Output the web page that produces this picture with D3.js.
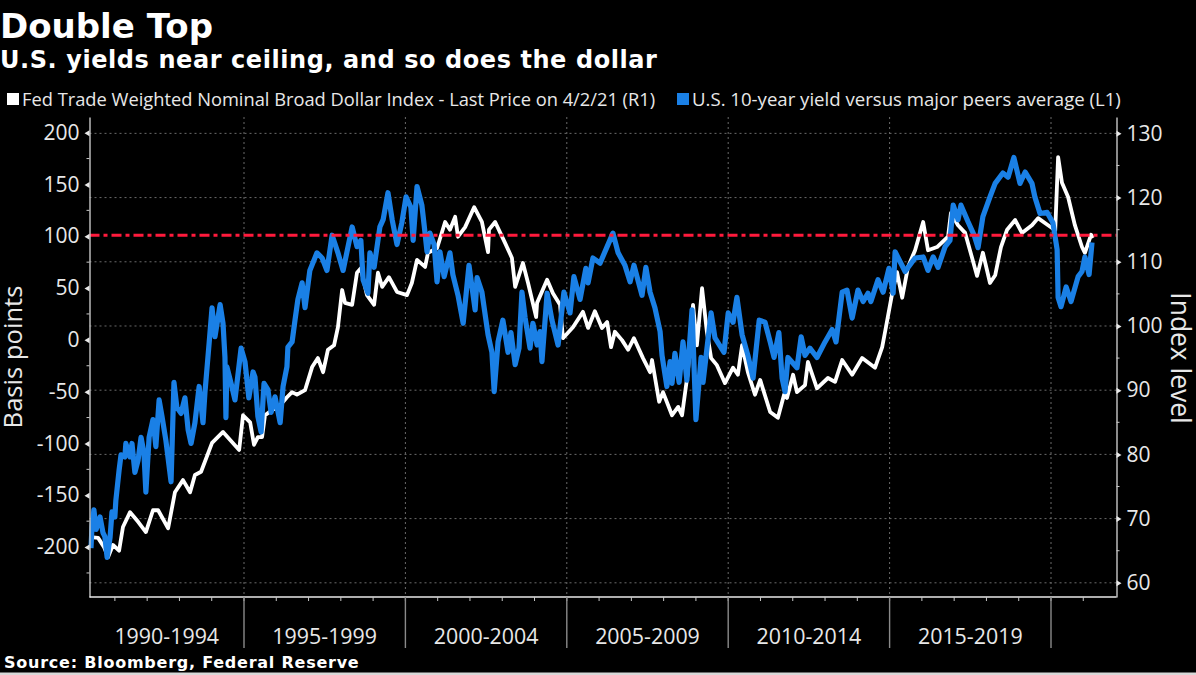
<!DOCTYPE html>
<html>
<head>
<meta charset="utf-8">
<script src="https://d3js.org/d3.v7.min.js"></script>
<style>
  html, body { margin: 0; padding: 0; background: #000; overflow: hidden; }
  text { fill: #e8e8e8; }
</style>
</head>
<body>
<div id="chart-area"></div>
<script>
// Dollar index, right axis (decimal year, index level)
var dollarYears = [1990.26,1990.48,1990.66,1990.79,1990.94,1991.13,1991.25,1991.47,1991.72,1991.96,1992.18,1992.34,1992.65,1992.86,1993.11,1993.33,1993.48,1993.67,1994.01,1994.35,1994.85,1994.97,1995.19,1995.31,1995.43,1995.56,1995.65,1995.87,1996.08,1996.33,1996.49,1996.64,1996.89,1997.11,1997.29,1997.45,1997.60,1997.79,1997.91,1998.04,1998.13,1998.35,1998.50,1998.62,1998.81,1999.03,1999.15,1999.28,1999.49,1999.74,2000.05,2000.20,2000.36,2000.61,2000.70,2000.98,2001.23,2001.38,2001.54,2001.63,2001.85,2002.13,2002.37,2002.56,2002.59,2002.78,2003.09,2003.30,2003.40,2003.64,2003.80,2004.05,2004.08,2004.39,2004.57,2004.79,2004.88,2005.19,2005.50,2005.66,2005.87,2006.09,2006.25,2006.37,2006.49,2006.71,2006.90,2007.08,2007.36,2007.58,2007.64,2007.86,2007.98,2008.26,2008.45,2008.57,2008.75,2008.91,2009.03,2009.19,2009.34,2009.47,2009.65,2009.90,2010.15,2010.30,2010.43,2010.61,2010.83,2010.99,2011.30,2011.54,2011.73,2011.82,2012.01,2012.13,2012.38,2012.47,2012.75,2013.09,2013.31,2013.53,2013.84,2014.15,2014.55,2014.77,2014.86,2015.07,2015.23,2015.39,2015.57,2015.79,2016.04,2016.19,2016.47,2016.81,2016.90,2017.12,2017.34,2017.55,2017.71,2017.89,2018.11,2018.27,2018.45,2018.64,2018.89,2019.10,2019.41,2019.60,2019.91,2020.13,2020.22,2020.34,2020.53,2020.74,2020.96,2021.05,2021.24,2021.30];
var dollarValues = [67.1,67.0,65.6,64.0,65.9,65.0,68.7,71.0,69.5,67.9,71.3,71.3,68.5,74.1,76.0,74.1,76.8,77.3,81.8,83.5,80.7,86.1,85.0,81.5,82.7,82.7,86.1,86.9,87.4,88.9,89.7,89.3,90.0,93.6,95.0,92.8,96.3,97.0,99.8,105.6,103.6,103.3,108.3,109.0,104.8,103.3,108.3,106.1,107.6,105.3,104.8,106.7,110.3,109.2,111.4,112.1,116.2,115.0,117.0,113.9,115.4,118.5,116.2,111.5,115.0,116.2,112.9,110.6,106.1,109.8,106.7,101.4,103.6,107.2,105.1,103.3,98.1,99.8,102.2,99.7,102.3,99.7,100.6,96.7,99.1,97.8,96.3,98.1,95.0,92.8,94.7,88.2,89.7,86.1,87.4,86.1,92.8,103.3,97.0,105.9,99.1,95.0,93.9,91.1,93.5,92.4,97.0,92.8,89.3,91.6,86.6,85.7,89.3,88.8,92.4,89.7,90.8,94.4,90.3,91.9,91.3,94.7,92.4,95.0,93.5,96.7,99.1,104.8,108.4,104.4,109.2,111.8,116.2,111.8,112.3,113.9,117.6,115.7,114.5,110.7,107.8,111.4,106.7,107.9,112.3,115.0,116.5,114.5,115.7,116.8,115.7,114.9,126.3,122.3,120.1,115.7,112.3,111.4,114.2,113.7];

// 10-year yield spread, left axis (decimal year, basis points)
var yieldYears = [1990.26,1990.29,1990.35,1990.42,1990.54,1990.63,1990.69,1990.76,1990.85,1990.91,1991.00,1991.03,1991.13,1991.19,1991.31,1991.34,1991.47,1991.53,1991.62,1991.72,1991.81,1991.90,1991.96,1992.06,1992.18,1992.27,1992.37,1992.46,1992.58,1992.74,1992.83,1992.92,1993.05,1993.17,1993.27,1993.36,1993.48,1993.61,1993.73,1993.79,1993.92,1994.01,1994.10,1994.26,1994.35,1994.41,1994.44,1994.47,1994.60,1994.72,1994.91,1995.03,1995.15,1995.28,1995.34,1995.43,1995.53,1995.62,1995.74,1995.84,1995.96,1996.12,1996.21,1996.33,1996.36,1996.49,1996.58,1996.67,1996.80,1996.89,1997.04,1997.26,1997.42,1997.57,1997.73,1997.91,1998.07,1998.35,1998.50,1998.62,1998.69,1998.84,1998.90,1999.03,1999.21,1999.31,1999.46,1999.59,1999.74,1999.89,2000.02,2000.17,2000.24,2000.36,2000.51,2000.58,2000.67,2000.76,2000.89,2000.98,2001.07,2001.20,2001.38,2001.47,2001.63,2001.79,2001.97,2002.16,2002.22,2002.37,2002.56,2002.68,2002.75,2002.87,2003.02,2003.18,2003.27,2003.40,2003.52,2003.61,2003.71,2003.86,2003.95,2004.08,2004.17,2004.23,2004.39,2004.54,2004.73,2004.91,2005.10,2005.22,2005.41,2005.59,2005.66,2005.81,2006.03,2006.25,2006.43,2006.59,2006.80,2006.96,2007.08,2007.27,2007.33,2007.45,2007.58,2007.73,2007.89,2007.95,2008.10,2008.20,2008.26,2008.35,2008.48,2008.60,2008.72,2008.88,2009.00,2009.16,2009.22,2009.47,2009.59,2009.87,2010.00,2010.15,2010.27,2010.43,2010.61,2010.77,2010.96,2011.14,2011.30,2011.42,2011.57,2011.67,2011.76,2011.85,2012.13,2012.26,2012.38,2012.53,2012.75,2013.00,2013.22,2013.34,2013.53,2013.68,2013.84,2014.02,2014.18,2014.33,2014.42,2014.64,2014.80,2014.98,2015.11,2015.17,2015.48,2015.79,2016.04,2016.19,2016.35,2016.50,2016.72,2016.87,2016.97,2017.12,2017.21,2017.43,2017.62,2017.74,2017.89,2018.11,2018.27,2018.51,2018.67,2018.85,2019.04,2019.20,2019.41,2019.50,2019.66,2019.88,2020.06,2020.19,2020.22,2020.31,2020.47,2020.62,2020.84,2020.96,2021.05,2021.18,2021.27];
var yieldValues = [-201,-181,-164,-183,-171,-186,-190,-210,-191,-166,-171,-155,-126,-111,-113,-100,-113,-100,-128,-116,-94,-109,-147,-94,-77,-103,-58,-74,-97,-137,-41,-65,-71,-56,-87,-100,-80,-45,-80,-51,-3,31,3,34,16,-17,-75,-26,-42,-58,-8,-21,-56,-31,-36,-74,-89,-42,-48,-70,-55,-80,-45,-26,-7,-2,19,39,55,31,67,84,79,67,101,84,67,109,90,96,58,45,84,70,109,116,142,116,92,113,138,128,96,148,130,111,85,103,92,56,85,61,84,63,43,16,72,29,60,46,5,-12,-50,-2,19,-12,7,-24,-8,46,21,-8,16,-5,8,-21,45,19,-5,46,26,61,39,69,55,79,74,90,103,84,72,56,72,50,43,70,46,31,8,-15,-45,-21,-42,-13,-41,-2,-39,29,-77,-17,-41,26,2,-12,26,17,41,5,-15,-37,19,17,-2,-17,7,-37,-50,-17,-27,3,-15,-8,-17,-2,10,-2,46,48,21,48,37,45,37,58,46,69,45,85,66,79,80,67,80,70,90,96,130,116,130,114,101,89,119,138,151,161,157,176,151,162,151,138,122,123,113,87,41,32,51,37,61,66,80,63,94];

// Ticks and labels
var leftTicks = [-200,-150,-100,-50,0,50,100,150,200];
var leftMinor = [-225,-175,-125,-75,-25,25,75,125,175];
var rightTicks = [60,70,80,90,100,110,120,130];
var rightMinor = [65,75,85,95,105,115,125];
var yearTicks = d3.range(1991, 2022);
var bandYears = [1995,2000,2005,2010,2015,2020];
var bandLabels = ["1990-1994","1995-1999","2000-2004","2005-2009","2010-2014","2015-2019"];
var ceiling = 100;

var width = 1196, height = 675;
var left = 89.5, right = 1116.5, top_ = 117, bottom = 597;

var svg = d3.select("#chart-area").append("svg")
    .attr("width", width)
    .attr("height", height)
    .style("display", "block")
    .style("background-color", "#000");

// Scales
var x = d3.scaleLinear()
    .domain([1995 + (left - 244) / 32.28, 1995 + (right - 244) / 32.28])
    .range([left, right]);
var yLeft = d3.scaleLinear().domain([-248.2, 215.1]).range([bottom, top_]);
var yRight = d3.scaleLinear().domain([57.79, 132.55]).range([bottom, top_]);

// Grid
svg.append("g").selectAll("line").data(rightTicks).join("line")
    .attr("x1", left).attr("x2", right)
    .attr("y1", d => yRight(d)).attr("y2", d => yRight(d))
    .attr("stroke", "#6a6a6a").attr("stroke-dasharray", "2,3");

svg.append("g").selectAll("line").data(bandYears).join("line")
    .attr("x1", d => x(d)).attr("x2", d => x(d))
    .attr("y1", top_).attr("y2", bottom)
    .attr("stroke", "#6a6a6a").attr("stroke-dasharray", "2,3");

// Lines
var dollarLine = d3.line().x(d => x(d[0])).y(d => yRight(d[1]));
var yieldLine = d3.line().x(d => x(d[0])).y(d => yLeft(d[1]));

svg.append("path")
    .attr("d", dollarLine(d3.zip(dollarYears, dollarValues)))
    .attr("fill", "none").attr("stroke", "#fff")
    .attr("stroke-width", 3.8).attr("stroke-linejoin", "round");

svg.append("path")
    .attr("d", yieldLine(d3.zip(yieldYears, yieldValues)))
    .attr("fill", "none").attr("stroke", "#1a80e6")
    .attr("stroke-width", 5.2).attr("stroke-linejoin", "round");

// Ceiling line
svg.append("line")
    .attr("x1", left).attr("x2", right)
    .attr("y1", yLeft(ceiling) - 1).attr("y2", yLeft(ceiling) - 1)
    .attr("stroke", "#ff1a3c").attr("stroke-width", 3)
    .attr("stroke-dasharray", "10,4,4,4");

// Axes
function styleAxis(g) {
    g.selectAll(".domain").attr("stroke", "#c8c8c8").attr("stroke-width", 1.4);
    g.selectAll("line").attr("stroke", "#c8c8c8");
    g.selectAll("text")
        .style("font-family", "'Open Sans', sans-serif")
        .style("font-size", "21px")
        .style("fill", "#e8e8e8");
}

var axisLeft = svg.append("g").attr("transform", "translate(" + left + ",0)")
    .call(d3.axisLeft(yLeft).tickValues(leftTicks).tickSize(0).tickPadding(10)
        .tickFormat(d => d < 0 ? "-" + Math.abs(d) : d))
    .call(styleAxis);

var axisRight = svg.append("g").attr("transform", "translate(" + right + ",0)")
    .call(d3.axisRight(yRight).tickValues(rightTicks).tickSize(0).tickPadding(10))
    .call(styleAxis);

// Arrow shaped major ticks
axisLeft.selectAll(".tick").append("path").attr("d", "M0,-3 L-5,0 L0,3 Z").attr("fill", "#e8e8e8");
axisRight.selectAll(".tick").append("path").attr("d", "M0,-3 L5,0 L0,3 Z").attr("fill", "#e8e8e8");

// Minor ticks
svg.append("g").selectAll("line").data(leftMinor).join("line")
    .attr("x1", left - 3).attr("x2", left)
    .attr("y1", d => yLeft(d)).attr("y2", d => yLeft(d))
    .attr("stroke", "#c8c8c8");

svg.append("g").selectAll("line").data(rightMinor).join("line")
    .attr("x1", right).attr("x2", right + 3)
    .attr("y1", d => yRight(d)).attr("y2", d => yRight(d))
    .attr("stroke", "#c8c8c8");

// Bottom axis
svg.append("line")
    .attr("x1", left).attr("x2", right).attr("y1", bottom).attr("y2", bottom)
    .attr("stroke", "#e8e8e8").attr("stroke-width", 1.4);

svg.append("g").selectAll("line").data(yearTicks).join("line")
    .attr("x1", d => x(d)).attr("x2", d => x(d))
    .attr("y1", bottom).attr("y2", bottom + 4)
    .attr("stroke", "#c8c8c8");

svg.append("g").selectAll("line").data(bandYears).join("line")
    .attr("x1", d => x(d)).attr("x2", d => x(d))
    .attr("y1", bottom).attr("y2", 648)
    .attr("stroke", "#8a8a8a").attr("stroke-width", 1.4);

svg.append("g").selectAll("text").data(bandLabels).join("text")
    .attr("x", (d, i) => i == 0 ? (left + x(1995)) / 2 : x(1990 + 5 * i + 2.5))
    .attr("y", 644)
    .attr("text-anchor", "middle")
    .style("font-family", "'Open Sans', sans-serif")
    .style("font-size", "21.4px")
    .text(d => d);

// Axis titles
svg.append("text")
    .attr("transform", "translate(22,357) rotate(-90)")
    .attr("text-anchor", "middle")
    .style("font-family", "'Open Sans', sans-serif")
    .style("font-size", "25.6px")
    .text("Basis points");

svg.append("text")
    .attr("transform", "translate(1171,358) rotate(90)")
    .attr("text-anchor", "middle")
    .style("font-family", "'Open Sans', sans-serif")
    .style("font-size", "26.4px")
    .text("Index level");

// Title and subtitle
svg.append("text")
    .attr("x", 0).attr("y", 38)
    .style("font-family", "'DejaVu Sans', sans-serif")
    .style("font-weight", "bold")
    .style("font-size", "34px")
    .style("fill", "#fff")
    .text("Double Top");

svg.append("text")
    .attr("x", 0).attr("y", 68)
    .style("font-family", "'DejaVu Sans', sans-serif")
    .style("font-weight", "bold")
    .style("font-size", "24px")
    .style("letter-spacing", "0.57px")
    .style("fill", "#fff")
    .text("U.S. yields near ceiling, and so does the dollar");

// Legend
svg.append("rect").attr("x", 7).attr("y", 93).attr("width", 12).attr("height", 12).attr("fill", "#fff");
svg.append("text")
    .attr("x", 22).attr("y", 106)
    .style("font-family", "'Open Sans', sans-serif")
    .style("font-size", "18.3px")
    .text("Fed Trade Weighted Nominal Broad Dollar Index - Last Price on 4/2/21 (R1)");

svg.append("rect").attr("x", 677).attr("y", 93).attr("width", 12).attr("height", 12).attr("fill", "#1a80e6");
svg.append("text")
    .attr("x", 692).attr("y", 106)
    .style("font-family", "'Open Sans', sans-serif")
    .style("font-size", "18.6px")
    .text("U.S. 10-year yield versus major peers average (L1)");

// Source
svg.append("text")
    .attr("x", 4).attr("y", 668)
    .style("font-family", "'DejaVu Sans', sans-serif")
    .style("font-weight", "bold")
    .style("font-size", "16px")
    .style("letter-spacing", "0.76px")
    .style("fill", "#fff")
    .text("Source: Bloomberg, Federal Reserve");

// Strip at the bottom edge of the screenshot
svg.append("rect").attr("x", 0).attr("y", 672.5).attr("width", width).attr("height", 3).attr("fill", "#d8d8d8");
</script>
</body>
</html>
